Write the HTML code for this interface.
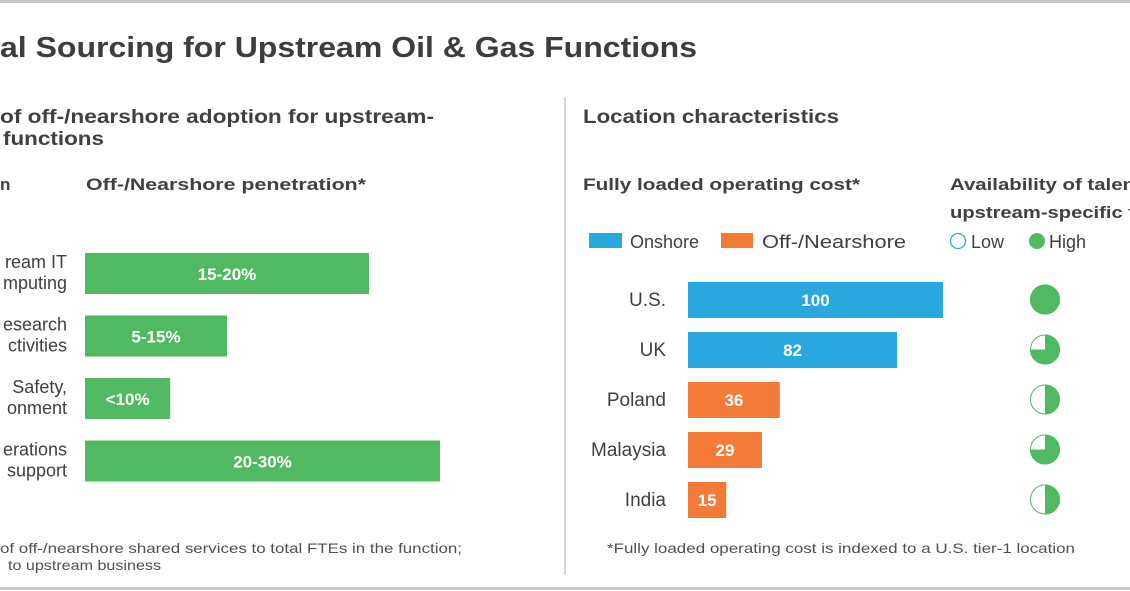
<!DOCTYPE html>
<html><head><meta charset="utf-8"><style>
html,body{margin:0;padding:0;background:#fff;}
svg{display:block;font-family:"Liberation Sans",sans-serif;}
</style></head><body>
<svg width="1130" height="591" viewBox="0 0 1130 591">
<rect x="0" y="0" width="1130" height="3" fill="#c8c8c8"/>
<rect x="0" y="587" width="1130" height="3" fill="#c8c8c8"/>
<text x="0" y="57" font-size="29" font-weight="bold" fill="#3d3d3d" textLength="697" lengthAdjust="spacingAndGlyphs">al Sourcing for Upstream Oil &amp; Gas Functions</text>
<line x1="565" y1="97" x2="565" y2="575" stroke="#c8c8c8" stroke-width="1.5"/>
<g fill="#404040" font-weight="bold" font-size="19">
<text x="0" y="123" textLength="434" lengthAdjust="spacingAndGlyphs">of off-/nearshore adoption for upstream-</text>
<text x="3" y="145" textLength="101" lengthAdjust="spacingAndGlyphs">functions</text>
<text x="583" y="123" textLength="256" lengthAdjust="spacingAndGlyphs">Location characteristics</text>
</g>
<g fill="#404040" font-weight="bold" font-size="17">
<text x="0" y="190">n</text>
<text x="86" y="190" textLength="280" lengthAdjust="spacingAndGlyphs">Off-/Nearshore penetration*</text>
<text x="583" y="190" textLength="277" lengthAdjust="spacingAndGlyphs">Fully loaded operating cost*</text>
<text x="950" y="190" textLength="185" lengthAdjust="spacingAndGlyphs">Availability of talen</text>
<text x="950" y="218" textLength="185" lengthAdjust="spacingAndGlyphs">upstream-specific f</text>
</g>
<g font-size="18" fill="#404040">
<rect x="589" y="233" width="33" height="15" fill="#29a8e0"/>
<text x="630" y="248">Onshore</text>
<rect x="721" y="233" width="32" height="15" fill="#f47a38"/>
<text x="762" y="248" textLength="144" lengthAdjust="spacingAndGlyphs">Off-/Nearshore</text>
<circle cx="958" cy="241" r="7.5" fill="none" stroke="#29a8e0" stroke-width="1.3"/>
<text x="971" y="248">Low</text>
<circle cx="1037" cy="241" r="8" fill="#52b963"/>
<text x="1049" y="248">High</text>
</g>
<g id="left-chart"></g>
<g id="right-chart"></g>
<g id="talent"></g>
<g font-size="14" fill="#505050">
<text x="0" y="553" textLength="462" lengthAdjust="spacingAndGlyphs">of off-/nearshore shared services to total FTEs in the function;</text>
<text x="8" y="570" textLength="153" lengthAdjust="spacingAndGlyphs">to upstream business</text>
<text x="607" y="553" textLength="468" lengthAdjust="spacingAndGlyphs">*Fully loaded operating cost is indexed to a U.S. tier-1 location</text>
</g>
</svg>
<script>
const NS="http://www.w3.org/2000/svg";
const funcLabels1=["ream IT","esearch","Safety,","erations"];
const funcLabels2=["mputing","ctivities","onment","support"];
const penetrationValues=[20,10,6,25];
const penetrationText=["15-20%","5-15%","<10%","20-30%"];
const countries=["U.S.","UK","Poland","Malaysia","India"];
const costValues=[100,82,36,29,15];
const costType=["on","on","off","off","off"];
const talentFraction=[1,0.75,0.5,0.75,0.5];

function mk(tag,attrs,parent){const e=document.createElementNS(NS,tag);for(const k in attrs)e.setAttribute(k,attrs[k]);parent.appendChild(e);return e;}
const xPen=v=>v*14.2;
const yPen=i=>253+i*62.5;
const L=document.getElementById('left-chart');
penetrationValues.forEach((v,i)=>{
  const y=yPen(i);
  const r=mk('rect',{x:85,y:y,width:xPen(v),height:41,fill:'#52b963'},L);
  
  
  const t=mk('text',{x:85+xPen(v)/2,y:y+27,'text-anchor':'middle','font-size':'17','font-weight':'bold',fill:'#fff'},L);
  t.textContent=penetrationText[i];
  
  
  const a=mk('text',{x:67,y:y+15,'text-anchor':'end','font-size':'18',fill:'#404040'},L);
  a.textContent=funcLabels1[i];
  
  
  const b=mk('text',{x:67,y:y+36,'text-anchor':'end','font-size':'18',fill:'#404040'},L);
  b.textContent=funcLabels2[i];
  
  
});
const xCost=v=>v*2.55;
const yCost=i=>300+i*50;
const R=document.getElementById('right-chart');
costValues.forEach((v,i)=>{
  const cy=yCost(i);
  const r=mk('rect',{x:688,y:cy-18,width:xCost(v),height:36,fill:costType[i]==='on'?'#29a8e0':'#f47a38'},R);
  
  
  const t=mk('text',{x:688+xCost(v)/2,y:cy+6,'text-anchor':'middle','font-size':'17','font-weight':'bold',fill:'#fff'},R);
  t.textContent=costValues[i];
  
  
  const c=mk('text',{x:666,y:cy+6,'text-anchor':'end','font-size':'19',fill:'#404040'},R);
  c.textContent=countries[i];
  
  
});
const T=document.getElementById('talent');
talentFraction.forEach((f,i)=>{
  const cx=1045,cy=yCost(i)-0.5,r=15;
  const g=mk('g',{},T);
  
  
  mk('circle',{cx:cx,cy:cy,r:r-0.5,fill:'#fff',stroke:'#52b963','stroke-width':1},g);
  if(f>=1){mk('circle',{cx:cx,cy:cy,r:r,fill:'#52b963'},g);}
  else{
    const ang=f*2*Math.PI;
    const ex=cx+r*Math.sin(ang),ey=cy-r*Math.cos(ang);
    const large=f>0.5?1:0;
    mk('path',{d:`M${cx},${cy} L${cx},${cy-r} A${r},${r} 0 ${large} 1 ${ex},${ey} Z`,fill:'#52b963'},g);
  }
});
</script>
</body></html>
